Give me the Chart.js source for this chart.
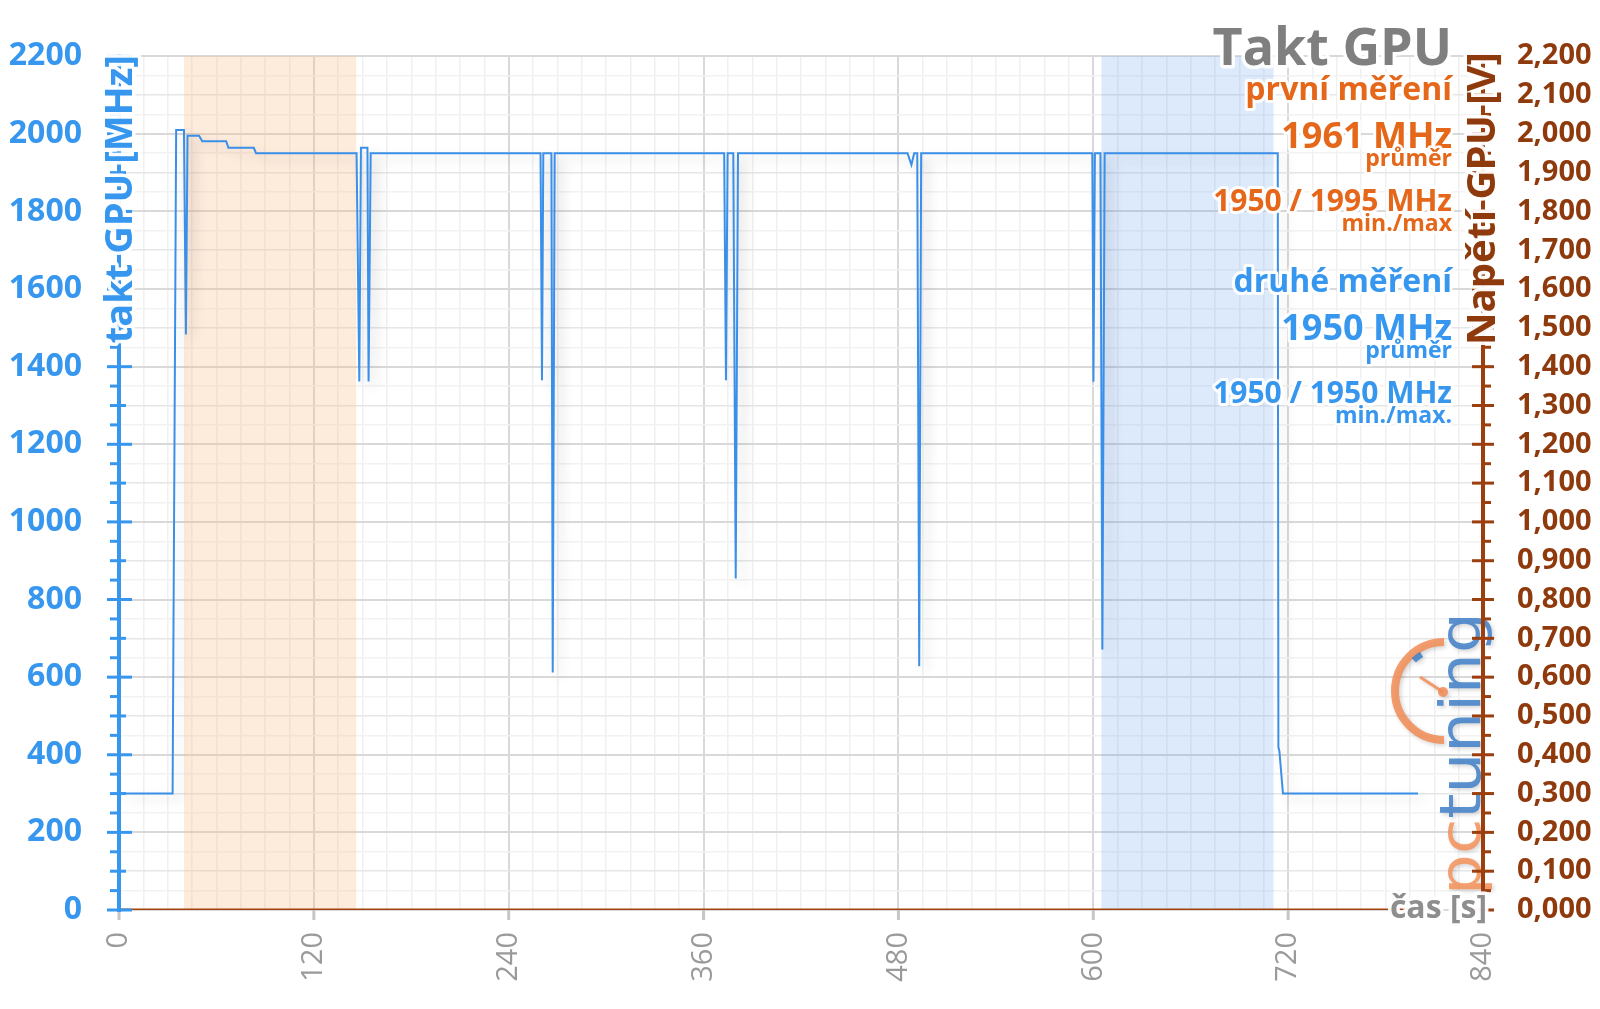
<!DOCTYPE html>
<html lang="cs">
<head>
    <meta charset="UTF-8">
    <title>Takt GPU</title>
    <script src="https://cdn.jsdelivr.net/npm/chart.js"></script>
    <style>
        html, body {
            margin: 0;
            padding: 0;
            background: #fff;
        }

        .chart-container {
            position: relative;
            width: 1600px;
            height: 1009px;
        }
    </style>
</head>
<body>
    <div class="chart-container">
        <canvas id="chart"></canvas>
    </div>

    <script>
        // GPU clock trace (time in s, clock in MHz)
        const timeSec = [0, 33, 35.2, 40, 41.2, 42.2, 49.3, 51.3, 66, 67.4,
            83, 84.4, 146.3, 148, 149, 153, 153.7, 155,
            259.6, 260.5, 261.3, 266.3, 267.1, 268.3,
            372.7, 373.8, 374.8, 378.3, 379.8, 381.2,
            485.6, 488, 489.7, 491.6, 492.8, 494,
            599.4, 600.1, 601, 604.4, 605.6, 607,
            713.6, 714, 714.6, 716.8, 800];
        const clockMHz = [300, 300, 2010, 2010, 1483, 1995, 1995, 1981, 1981, 1964,
            1964, 1950, 1950, 1362, 1964, 1964, 1362, 1950,
            1950, 1365, 1950, 1950, 612, 1950,
            1950, 1365, 1950, 1950, 854, 1950,
            1950, 1920, 1950, 1950, 628, 1950,
            1950, 1361, 1950, 1950, 671, 1950,
            1950, 420, 410, 300, 300];

        // GPU voltage (not logged in this run, stays at 0)
        const voltTime = [0, 800];
        const voltV = [0, 0];

        // labelled ticks
        const timeTicks = [0, 120, 240, 360, 480, 600, 720, 840];
        const clockTicks = [0, 200, 400, 600, 800, 1000, 1200, 1400, 1600, 1800, 2000, 2200];
        const voltTicks = [0, 0.1, 0.2, 0.3, 0.4, 0.5, 0.6, 0.7, 0.8, 0.9, 1.0, 1.1,
            1.2, 1.3, 1.4, 1.5, 1.6, 1.7, 1.8, 1.9, 2.0, 2.1, 2.2];

        // measured windows (s)
        const bandStart = [40, 605];
        const bandEnd = [146, 711];

        // summary of both runs
        const runNames = ['první měření', 'druhé měření'];
        const runAvg = [1961, 1950];
        const runMin = [1950, 1950];
        const runMax = [1995, 1950];

        const BLUE = '#3797ef';
        const ORANGE = '#e5671a';
        const BROWN = '#8f3a0d';
        const FONT = '"Open Sans", "DejaVu Sans", sans-serif';

        function isTick(list, v) {
            return list.some(t => Math.abs(t - v) < 1e-6);
        }

        function haloText(ctx, text, x, y, font, color, align, halo) {
            ctx.font = font;
            ctx.textAlign = align;
            ctx.textBaseline = 'alphabetic';
            ctx.lineJoin = 'round';
            ctx.strokeStyle = 'rgba(255,255,255,0.95)';
            ctx.lineWidth = halo || 6;
            ctx.strokeText(text, x, y);
            ctx.fillStyle = color;
            ctx.fillText(text, x, y);
        }

        function drawLogo(ctx) {
            ctx.save();
            ctx.globalAlpha = 0.85;
            ctx.shadowColor = 'rgba(0,0,0,0.2)';
            ctx.shadowBlur = 4;
            ctx.shadowOffsetX = 2;
            ctx.shadowOffsetY = 2;

            // gauge
            ctx.strokeStyle = '#f28c55';
            ctx.lineWidth = 8;
            ctx.beginPath();
            ctx.arc(1444, 691, 49, -Math.PI / 2, Math.PI / 2, true);
            ctx.stroke();
            ctx.strokeStyle = '#3f7fc8';
            ctx.lineWidth = 6;
            ctx.beginPath();
            ctx.arc(1444, 691, 43, -2.35, -2.12);
            ctx.stroke();
            ctx.strokeStyle = '#f28c55';
            ctx.lineWidth = 3;
            ctx.beginPath();
            ctx.moveTo(1420, 677);
            ctx.lineTo(1443, 692);
            ctx.stroke();
            ctx.fillStyle = '#f28c55';
            ctx.beginPath();
            ctx.arc(1443, 692, 5, 0, Math.PI * 2);
            ctx.fill();

            // word mark
            ctx.translate(1480, 895);
            ctx.rotate(-Math.PI / 2);
            ctx.scale(1.13, 1);
            ctx.font = '57px "DejaVu Sans"';
            ctx.textAlign = 'left';
            ctx.textBaseline = 'alphabetic';
            ctx.fillStyle = '#f39159';
            ctx.fillText('pc', 0, 0);
            const w = ctx.measureText('pc').width;
            ctx.fillStyle = '#3f7fc8';
            ctx.fillText('tuning', w, 0);
            ctx.restore();
        }

        function drawAxes(chart) {
            const { ctx, chartArea: a, scales: { x, y, y1 } } = chart;
            ctx.save();

            // x ticks
            ctx.fillStyle = '#c6c6c6';
            timeTicks.forEach(t => {
                const px = x.getPixelForValue(t);
                ctx.fillRect(px - 1.5, a.bottom, 3, 10);
            });

            // left axis
            ctx.strokeStyle = BLUE;
            ctx.lineWidth = 4;
            ctx.beginPath();
            ctx.moveTo(a.left, a.top - 2);
            ctx.lineTo(a.left, a.bottom + 2);
            ctx.stroke();
            ctx.lineWidth = 3;
            y.ticks.forEach(tk => {
                const v = tk.value;
                const py = y.getPixelForValue(v);
                let x0, x1;
                if (v % 200 === 0) { x0 = a.left - 12; x1 = a.left + 13; }
                else if (v % 100 === 0) { x0 = a.left - 9; x1 = a.left + 7; }
                else { x0 = a.left - 9; x1 = a.left - 1; }
                ctx.beginPath();
                ctx.moveTo(x0, py);
                ctx.lineTo(x1, py);
                ctx.stroke();
            });

            // right axis
            ctx.strokeStyle = '#9c3f0e';
            ctx.lineWidth = 4;
            ctx.beginPath();
            ctx.moveTo(a.right, a.top - 2);
            ctx.lineTo(a.right, a.bottom + 2);
            ctx.stroke();
            ctx.lineWidth = 3;
            y1.ticks.forEach(tk => {
                const v = tk.value;
                const py = y1.getPixelForValue(v);
                const major = isTick(voltTicks, v);
                ctx.beginPath();
                ctx.moveTo(major ? a.right - 11 : a.right + 2, py);
                ctx.lineTo(major ? a.right + 11 : a.right + 8, py);
                ctx.stroke();
            });
            ctx.restore();
        }

        const decor = {
            id: 'decor',
            beforeDatasetsDraw(chart) {
                const { ctx, chartArea: a, scales: { x } } = chart;
                const colors = ['rgba(250,190,140,0.3)', 'rgba(100,160,240,0.22)'];
                ctx.save();
                bandStart.forEach((s, i) => {
                    const x0 = x.getPixelForValue(s);
                    const x1 = x.getPixelForValue(bandEnd[i]);
                    ctx.fillStyle = colors[i];
                    ctx.fillRect(x0, a.top, x1 - x0, a.bottom - a.top);
                });
                ctx.restore();
            },
            beforeDatasetDraw(chart, args) {
                if (args.index !== 0) return;
                const ctx = chart.ctx;
                ctx.save();
                ctx.shadowColor = 'rgba(0,0,0,0.16)';
                ctx.shadowBlur = 12;
                ctx.shadowOffsetX = 7;
                ctx.shadowOffsetY = 6;
            },
            afterDatasetDraw(chart, args) {
                if (args.index === 0) chart.ctx.restore();
            },
            afterDatasetsDraw(chart) {
                drawLogo(chart.ctx);
                drawAxes(chart);
            },
            afterDraw(chart) {
                const { ctx, chartArea: a } = chart;
                const rx = a.right - 31;
                ctx.save();

                // axis titles
                ctx.save();
                ctx.translate(a.left + 13, a.top - 1);
                ctx.rotate(-Math.PI / 2);
                haloText(ctx, 'takt GPU [MHz]', 0, 0, 'bold 38px ' + FONT, BLUE, 'right', 7);
                ctx.restore();

                ctx.save();
                ctx.translate(a.right + 12, a.top - 4);
                ctx.rotate(-Math.PI / 2);
                haloText(ctx, 'Napětí GPU [V]', 0, 0, 'bold 40px ' + FONT, BROWN, 'right', 7);
                ctx.restore();

                haloText(ctx, 'čas [s]', a.right + 4, a.bottom + 8, 'bold 32px ' + FONT, '#8e8e8e', 'right', 7);

                // title and run summaries
                haloText(ctx, 'Takt GPU', rx, 65, 'bold 52px ' + FONT, '#7f7f7f', 'right', 7);

                const colors = [ORANGE, BLUE];
                const base = [100, 292];
                runNames.forEach((name, i) => {
                    const b = base[i];
                    const c = colors[i];
                    haloText(ctx, name, rx, b, 'bold 32px ' + FONT, c, 'right', 6);
                    haloText(ctx, runAvg[i] + ' MHz', rx, b + 48, 'bold 36px ' + FONT, c, 'right', 6);
                    haloText(ctx, 'průměr', rx, b + 66, 'bold 23px ' + FONT, c, 'right', 5);
                    haloText(ctx, runMin[i] + ' / ' + runMax[i] + ' MHz', rx, b + 111, 'bold 30px ' + FONT, c, 'right', 6);
                    haloText(ctx, i === 0 ? 'min./max' : 'min./max.', rx, b + 131, 'bold 23px ' + FONT, c, 'right', 5);
                });
                ctx.restore();
            }
        };

        new Chart(document.getElementById('chart'), {
            type: 'line',
            data: {
                datasets: [{
                    label: 'takt GPU',
                    data: timeSec.map((t, i) => ({ x: t, y: clockMHz[i] })),
                    yAxisID: 'y',
                    borderColor: '#3a8fe8',
                    borderWidth: 2,
                    pointRadius: 0,
                    tension: 0,
                    fill: false
                }, {
                    label: 'napětí GPU',
                    data: voltTime.map((t, i) => ({ x: t, y: voltV[i] })),
                    yAxisID: 'y1',
                    borderColor: '#a4420e',
                    borderWidth: 3,
                    pointRadius: 0,
                    fill: false
                }]
            },
            options: {
                responsive: true,
                maintainAspectRatio: false,
                animation: false,
                layout: { padding: { top: 54, left: 0, right: 0, bottom: 0 } },
                plugins: {
                    legend: { display: false },
                    tooltip: { enabled: false }
                },
                scales: {
                    x: {
                        type: 'linear',
                        min: 0,
                        max: 840,
                        ticks: {
                            stepSize: 15,
                            autoSkip: false,
                            minRotation: 90,
                            maxRotation: 90,
                            padding: 22,
                            color: '#9a9a9a',
                            font: { family: FONT, size: 29 },
                            callback: v => isTick(timeTicks, v) ? String(v) : ''
                        },
                        grid: {
                            drawTicks: false,
                            color: c => (c.tick && c.tick.value % 120 === 0) ? '#d9d9d9' : '#f0f0f0',
                            lineWidth: c => (c.tick && c.tick.value % 120 === 0) ? 2 : 1.5
                        },
                        border: { display: false },
                        afterFit: s => { s.height = 99; }
                    },
                    y: {
                        position: 'left',
                        min: 0,
                        max: 2200,
                        ticks: {
                            stepSize: 50,
                            autoSkip: false,
                            padding: 37,
                            color: BLUE,
                            font: { family: FONT, size: 32, weight: 'bold' },
                            callback: v => isTick(clockTicks, v) ? String(v) : ''
                        },
                        grid: {
                            drawTicks: false,
                            color: c => {
                                const v = c.tick ? c.tick.value : 0;
                                if (v % 200 === 0) return '#d9d9d9';
                                if (v % 100 === 0) return '#e6e6e6';
                                return '#f2f2f2';
                            },
                            lineWidth: c => (c.tick && c.tick.value % 200 === 0) ? 2 : 1.5
                        },
                        border: { display: false },
                        afterFit: s => { s.width = 119; }
                    },
                    y1: {
                        position: 'right',
                        min: 0,
                        max: 2.2,
                        ticks: {
                            stepSize: 0.05,
                            autoSkip: false,
                            padding: 34,
                            color: BROWN,
                            font: { family: FONT, size: 29, weight: 'bold' },
                            callback: v => isTick(voltTicks, v) ? v.toFixed(3).replace('.', ',') : ''
                        },
                        grid: { drawOnChartArea: false, drawTicks: false },
                        border: { display: false },
                        afterFit: s => { s.width = 117; }
                    }
                }
            },
            plugins: [decor]
        });
    </script>
</body>
</html>
